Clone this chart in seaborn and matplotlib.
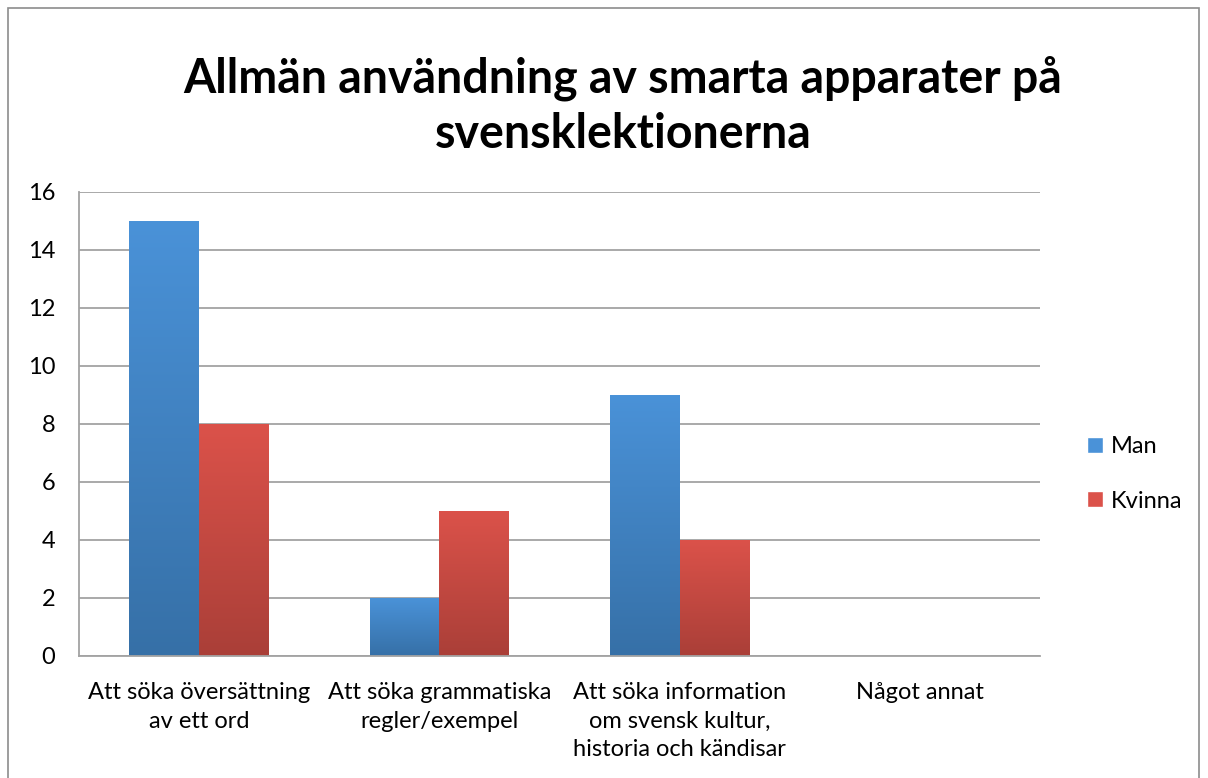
"""Grouped bar chart: general use of smart devices in Swedish lessons, by gender."""
import numpy as np
import pandas as pd
import seaborn as sns
import matplotlib.pyplot as plt
import matplotlib.patches as mpatches
from matplotlib.colors import LinearSegmentedColormap

sns.set_style("white")
plt.rcParams["font.family"] = ["Lato", "DejaVu Sans"]
plt.rcParams["text.color"] = "black"
plt.rcParams["xtick.labelcolor"] = "black"
plt.rcParams["ytick.labelcolor"] = "black"


############################## Data.

CATEGORIES = [
    "Att söka översättning\nav ett ord",
    "Att söka grammatiska\nregler/exempel",
    "Att söka information\nom svensk kultur,\nhistoria och kändisar",
    "Något annat",
]
SERIES = ["Man", "Kvinna"]
MAN = [15, 2, 9, 0]
KVINNA = [8, 5, 4, 0]
YTICKS = [0, 2, 4, 6, 8, 10, 12, 14, 16]
TITLE = "Allmän användning av smarta apparater på\nsvensklektionerna"

df = pd.DataFrame({
    "category": CATEGORIES * 2,
    "gender": [SERIES[0]] * len(MAN) + [SERIES[1]] * len(KVINNA),
    "count": MAN + KVINNA,
})


############################## Style.

W, H = 1208, 778
GRID_COLOR = "#a3a3a3"
FONT_SIZE = 17
# (top, bottom) gradient colours per series
GRADIENTS = {
    "Man": ("#4a92d8", "#3670a7"),
    "Kvinna": ("#db524a", "#aa3f38"),
}
MID = {k: v[0] for k, v in GRADIENTS.items()}

fig = plt.figure(figsize=(W / 100, H / 100), dpi=100)
ax = fig.add_axes([79 / W, 1 - 656 / H, (1040 - 79) / W, (656 - 192) / H])

# Outer chart border.
fig.add_artist(mpatches.Rectangle((8 / W, -0.05), (1199 - 8) / W, 1.05 - 8 / H,
    transform=fig.transFigure, fill=False, edgecolor="#8c8c8c", lw=1.2))

sns.barplot(data=df, x="category", y="count", hue="gender",
    order=CATEGORIES, hue_order=SERIES, palette=MID,
    width=0.58, gap=0, saturation=1, legend=False, ax=ax)

# Paint a vertical gradient into each bar.
n = len(CATEGORIES)
for i, bar in enumerate(ax.patches):
    h = bar.get_height()
    if h <= 0:
        continue
    series = SERIES[i // n] if len(ax.patches) == 2 * n else SERIES[0]
    top, bottom = GRADIENTS[series]
    cmap = LinearSegmentedColormap.from_list(series, [top, bottom])
    x0, y0, w = bar.get_x(), bar.get_y(), bar.get_width()
    grad = np.linspace(0, 1, 256).reshape(-1, 1)
    im = ax.imshow(grad, cmap=cmap, extent=(x0, x0 + w, y0, y0 + h),
                   origin="upper", aspect="auto", zorder=bar.get_zorder())
    im.set_clip_path(bar)
    bar.set_facecolor("none")
    bar.set_edgecolor("none")

# a e s t h e t i c s
ax.set_xlim(-0.5, n - 0.5)
ax.set_ylim(0, 16)
ax.set_yticks(YTICKS)
ax.set_xlabel("")
ax.set_ylabel("")
ax.grid(axis="y", color=GRID_COLOR, lw=1.3)
ax.set_axisbelow(True)
for side in ["top", "right"]:
    ax.spines[side].set_visible(False)
for side in ["left", "bottom"]:
    ax.spines[side].set_color(GRID_COLOR)
    ax.spines[side].set_linewidth(1.3)
ax.tick_params(axis="y", length=7, width=1.3, color=GRID_COLOR,
               labelsize=FONT_SIZE, pad=10, direction="out")
ax.tick_params(axis="x", which="major", length=0, labelsize=FONT_SIZE, pad=19)
ax.set_xticks(np.arange(-0.5, n), minor=True)
ax.tick_params(axis="x", which="minor", length=7, width=1.3, color=GRID_COLOR)
for lab in ax.get_xticklabels():
    lab.set_linespacing(1.42)

# Title.
fig.text(623 / W, 1 - 106 / H, TITLE, ha="center", va="center",
         fontsize=33.5, fontweight="bold", linespacing=1.3)

# Legend.
handles = [mpatches.Patch(facecolor=MID[s], label=s) for s in SERIES]
ax.legend(handles=handles, loc="center left", frameon=False,
          bbox_to_anchor=(1066 / W, 1 - 474 / H), bbox_transform=fig.transFigure,
          fontsize=FONT_SIZE, handlelength=0.65, handleheight=0.65,
          handletextpad=0.35, labelspacing=1.4)

plt.savefig("out.png", dpi=100)
plt.close()
